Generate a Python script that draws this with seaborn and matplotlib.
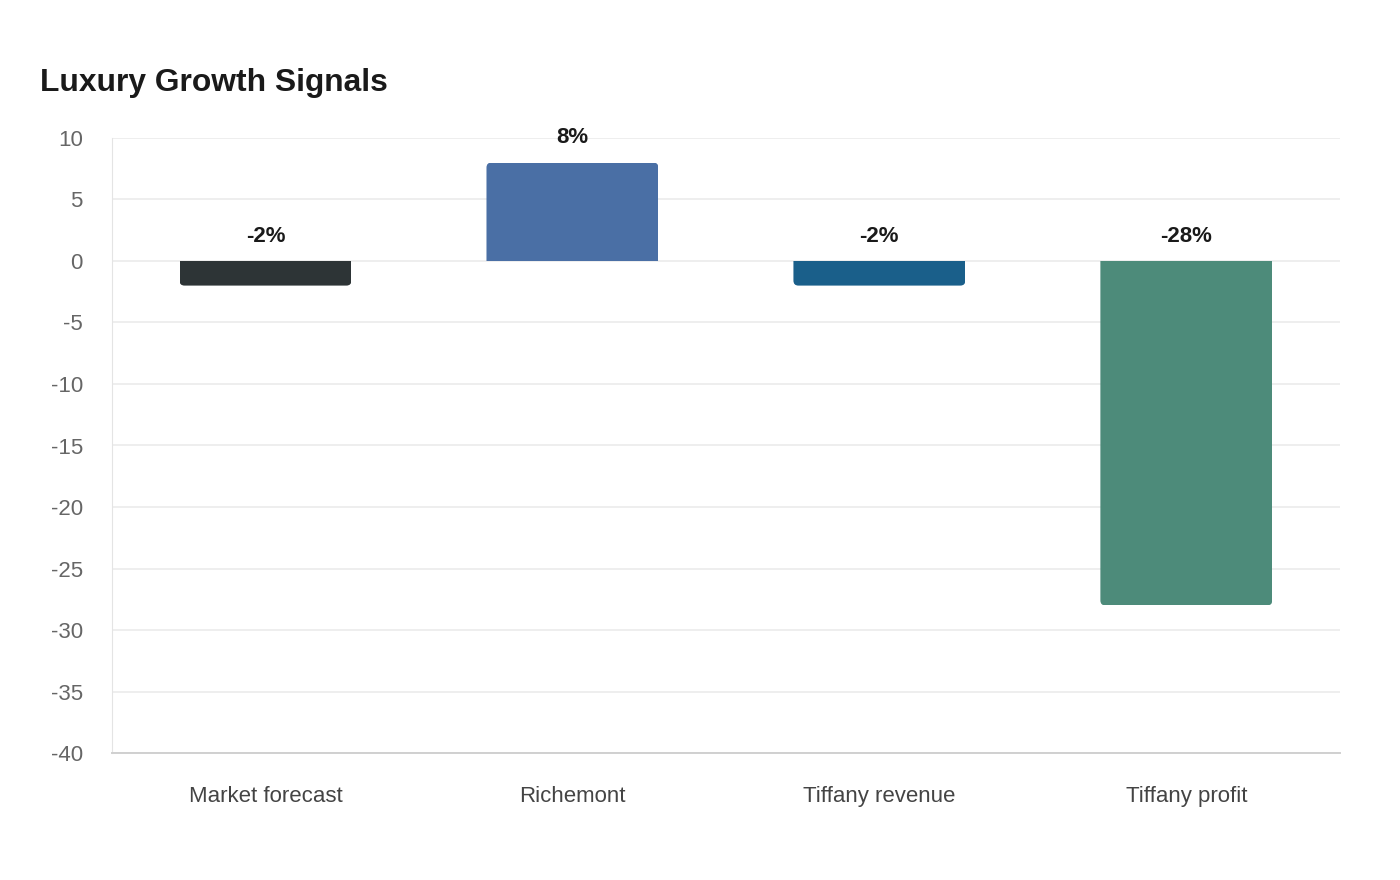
import matplotlib
matplotlib.use("Agg")
import matplotlib.pyplot as plt
from matplotlib.patches import FancyBboxPatch, Rectangle
import seaborn as sns
import pandas as pd

# data
categories = ["Market forecast", "Richemont", "Tiffany revenue", "Tiffany profit"]
growth = [-2, 8, -2, -28]
bar_colors = ["#2d3436", "#4a6fa5", "#1a5f8a", "#4d8b7a"]
y_ticks = [10, 5, 0, -5, -10, -15, -20, -25, -30, -35, -40]

df = pd.DataFrame({"category": categories, "growth": growth})

sns.set_style("white")
plt.rcParams["font.family"] = ["Liberation Sans", "DejaVu Sans"]
plt.rcParams["axes.unicode_minus"] = False

fig = plt.figure(figsize=(14, 8.8), dpi=100)
ax = fig.add_axes([0.08, 0.1443, 0.877, 0.6989])

sns.barplot(data=df, x="category", y="growth", hue="category",
            palette=bar_colors, width=0.56, legend=False, ax=ax)

ax.set_xlim(-0.5, 3.5)
ax.set_ylim(-40, 10)
ax.set_yticks(y_ticks)

# swap the plain bars for ones rounded at the far end:
# a fully rounded box pushed past zero, clipped to the original bar
bbox = ax.get_window_extent()
x_per_px = 4 / bbox.width
y_per_px = 50 / bbox.height
r = 5 * x_per_px
ext = 10 * y_per_px
for p, c in zip(list(ax.patches), bar_colors):
    x0, w, h = p.get_x(), p.get_width(), p.get_height()
    p.set_visible(False)
    if h < 0:
        y0, hh = h, abs(h) + ext
    else:
        y0, hh = -ext, h + ext
    rb = FancyBboxPatch((x0, y0), w, hh,
                        boxstyle=f"round,pad=0,rounding_size={r}",
                        mutation_aspect=y_per_px / x_per_px,
                        facecolor=c, edgecolor="none", zorder=2)
    ax.add_patch(rb)
    clip = Rectangle((x0, min(0, h)), w, abs(h), transform=ax.transData)
    rb.set_clip_path(clip)

for i, v in enumerate(growth):
    ax.text(i, max(v, 0) + 2.0, f"{v}%", ha="center", va="center",
            fontsize=16, fontweight="bold", color="#1a1a1a")

ax.grid(axis="y", color="#ebebeb", linewidth=1.2, zorder=0)
ax.set_axisbelow(True)
ax.set_xlabel("")
ax.set_ylabel("")
for s in ["top", "right"]:
    ax.spines[s].set_visible(False)
ax.spines["left"].set_color("#e4e4e4")
ax.spines["left"].set_linewidth(0.8)
ax.spines["bottom"].set_color("#d0d0d0")
ax.spines["bottom"].set_linewidth(1.4)

ax.tick_params(axis="y", length=15, width=1.2, color="#ebebeb",
               labelsize=16, labelcolor="#666666", pad=6)
ax.tick_params(axis="x", length=0, labelsize=16, labelcolor="#444444", pad=24)

fig.text(0.0286, 0.906, "Luxury Growth Signals", fontsize=22.9,
         fontweight="bold", color="#1a1a1a", va="center", ha="left")

fig.savefig("out.png", dpi=100, facecolor="white")
